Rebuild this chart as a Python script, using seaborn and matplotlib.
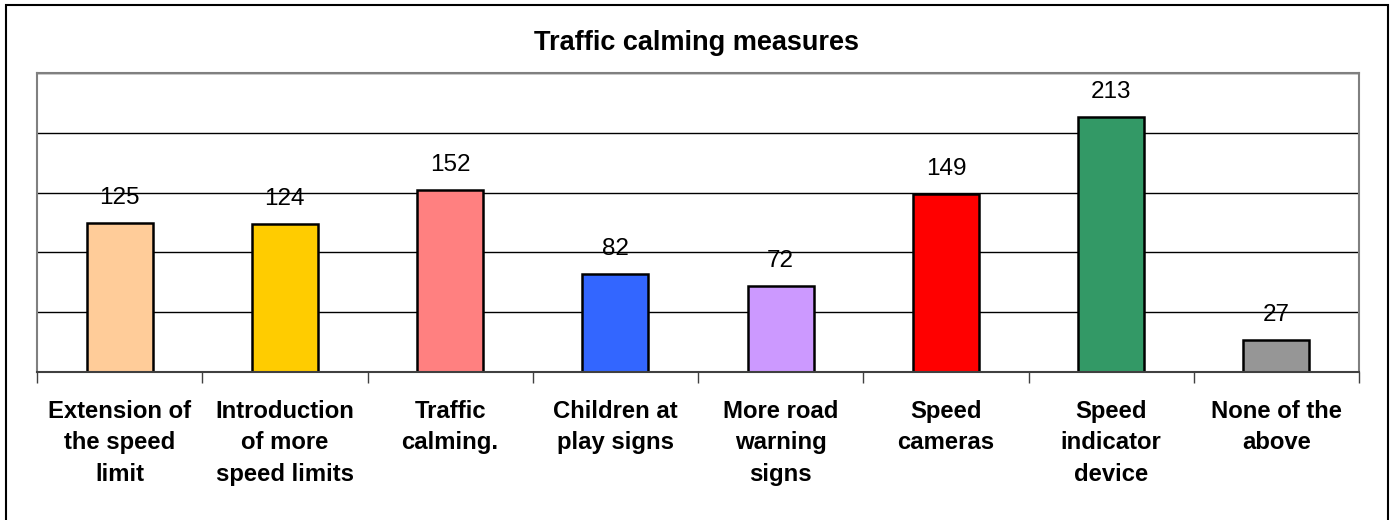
import matplotlib
matplotlib.use("Agg")
import matplotlib.pyplot as plt
import seaborn as sns
import pandas as pd
from matplotlib.patches import Rectangle

categories = ["Extension of\nthe speed\nlimit", "Introduction\nof more\nspeed limits", "Traffic\ncalming.",
              "Children at\nplay signs", "More road\nwarning\nsigns", "Speed\ncameras",
              "Speed\nindicator\ndevice", "None of the\nabove"]
values = [125, 124, 152, 82, 72, 149, 213, 27]
colors = ["#FFCC99", "#FFCC00", "#FF8080", "#3366FF", "#CC99FF", "#FF0000", "#339966", "#969696"]
title = "Traffic calming measures"

sns.set_theme(style="white")
plt.rcParams['font.family'] = ['Liberation Sans', 'DejaVu Sans']
plt.rcParams['text.color'] = 'black'
plt.rcParams['xtick.color'] = 'black'

df = pd.DataFrame({"cat": categories, "val": values})

fig = plt.figure(figsize=(13.92, 5.2), dpi=100)
ax = fig.add_axes([37/1392, 1-372/520, (1359-37)/1392, (372-73)/520])

sns.barplot(data=df, x="cat", y="val", hue="cat", palette=colors, legend=False,
            width=0.4, edgecolor="black", linewidth=1.8, ax=ax, saturation=1)

ax.set_ylim(0, 250)
ax.set_xlim(-0.5, len(categories) - 0.5)
ax.set_yticks([0, 50, 100, 150, 200, 250])
ax.set_yticklabels([])
ax.yaxis.grid(True, color="black", linewidth=1.0)
ax.set_axisbelow(True)
ax.tick_params(axis="y", length=0)
ax.set_xlabel("")
ax.set_ylabel("")

ax.set_xticks(range(len(categories)))
ax.set_xticklabels(categories, fontsize=17.2, fontweight="bold", linespacing=1.48, va="top", color="black")
ax.tick_params(axis="x", which="major", length=0, pad=20)
ax.set_xticks([i - 0.5 for i in range(len(categories) + 1)], minor=True)
ax.tick_params(axis="x", which="minor", length=8, width=1, color="#404040", direction="out", bottom=True)

for s in ["left", "top", "right"]:
    ax.spines[s].set_color("#808080")
    ax.spines[s].set_linewidth(1.5)
ax.spines["bottom"].set_color("#404040")
ax.spines["bottom"].set_linewidth(1.5)

for i, v in enumerate(values):
    ax.annotate(str(v), (i, v), xytext=(0, 10), textcoords="offset points",
                ha="center", va="bottom", fontsize=17.5, color="black")

fig.text(0.5, 1 - 43.5/520, title, ha="center", va="center", fontsize=19.5, fontweight="bold", color="black")

fig.patches.append(Rectangle((6/1392, -10/520), (1388-6)/1392, (515+10)/520, transform=fig.transFigure,
                             fill=False, edgecolor="black", linewidth=1.5))

fig.savefig("out.png", dpi=100)
